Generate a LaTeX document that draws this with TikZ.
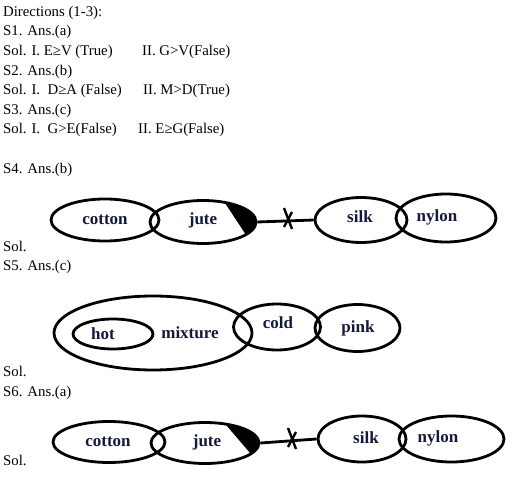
\documentclass[tikz,border=0pt]{standalone}
\usepackage{fontspec}
\setmainfont{Liberation Serif}
\usetikzlibrary{shapes.geometric,calc}
\definecolor{lbl}{RGB}{20,25,60}
\begin{document}
\begin{tikzpicture}[x=1pt,y=-1pt,
  txt/.style={anchor=base west, inner sep=0pt, font=\fontsize{14.8}{18}\selectfont},
  ell/.style={ellipse, draw, line width=2.8pt, inner sep=0pt},
  lab/.style={font=\bfseries\fontsize{17}{20}\selectfont, text=lbl, inner sep=0pt},
  link/.style={line width=2.8pt},
  crossmark/.style={line width=2.4pt}]
\useasboundingbox (0,0) rectangle (530,478);
% text lines
\node[txt] (t1) at (3,17) {Directions (1-3):};
\node[txt] (t2) at (3,36) {S1. Ans.(a)};
\node[txt] (t3) at (3,56) {Sol. I. E≥V (True)};
\node[txt] (t3b) at (142,56) {II. G>V(False)};
\node[txt] (t4) at (3,76) {S2. Ans.(b)};
\node[txt] (t5) at (3,95) {Sol. I.\ \ D≥A (False)};
\node[txt] (t5b) at (143,95) {II. M>D(True)};
\node[txt] (t6) at (3,115) {S3. Ans.(c)};
\node[txt] (t7) at (3,134) {Sol. I.\ \ G>E(False)};
\node[txt] (t7b) at (138,134) {II. E≥G(False)};
\node[txt] (t8) at (3,174) {S4. Ans.(b)};
\node[txt] (t9) at (3,252) {Sol.};
\node[txt] (t10) at (3,271) {S5. Ans.(c)};
\node[txt] (t11) at (3,376) {Sol.};
\node[txt] (t12) at (3,396) {S6. Ans.(a)};
\node[txt] (t13) at (3,465) {Sol.};
% S4 diagram
\node[ell, minimum width=108pt, minimum height=42pt] (s4cotton) at (105,220) {};
\node[ell, minimum width=106pt, minimum height=43pt] (s4jute) at (203,222) {};
\node[ell, minimum width=92pt, minimum height=45pt] (s4silk) at (361,220) {};
\node[ell, minimum width=100pt, minimum height=48pt] (s4nylon) at (446,218) {};
\fill ($(s4jute.center)+(-66:53 and 21.5)$) arc[start angle=-66, end angle=36, x radius=53, y radius=21.5] -- cycle;
\draw[link] (s4jute.east) -- (s4silk.west);
\coordinate (s4x) at (288,219);
\draw[crossmark] ($(s4x)+(-4,-11)$) -- ($(s4x)+(4,10)$);
\draw[crossmark] ($(s4x)+(4,-7)$) -- ($(s4x)+(-4,8)$);
\node[lab] (s4cottonl) at (105,220) {cotton};
\node[lab] (s4jutel) at (203,220) {jute};
\node[lab] (s4silkl) at (360,217) {silk};
\node[lab] (s4nylonl) at (437,217) {nylon};
% S5 diagram
\node[ell, minimum width=198pt, minimum height=74pt] (s5mix) at (153,333) {};
\node[ell, minimum width=80pt, minimum height=30pt] (s5hot) at (113,334) {};
\node[ell, minimum width=87pt, minimum height=46pt] (s5cold) at (277,327) {};
\node[ell, minimum width=85pt, minimum height=47pt] (s5pink) at (357.5,328) {};
\node[lab] (s5hotl) at (103,334) {hot};
\node[lab] (s5mixl) at (190,333) {mixture};
\node[lab] (s5coldl) at (278,323) {cold};
\node[lab] (s5pinkl) at (358,328) {pink};
% S6 diagram
\node[ell, minimum width=112pt, minimum height=41pt] (s6cotton) at (109,442) {};
\node[ell, minimum width=108pt, minimum height=41pt] (s6jute) at (205,443) {};
\node[ell, minimum width=88pt, minimum height=46pt] (s6silk) at (362,439) {};
\node[ell, minimum width=105pt, minimum height=46pt] (s6nylon) at (451.5,439) {};
\fill ($(s6jute.center)+(-68:54 and 20.5)$) arc[start angle=-68, end angle=32, x radius=54, y radius=20.5] -- cycle;
\draw[link] (s6jute.east) -- (s6silk.west);
\coordinate (s6x) at (292,439);
\draw[crossmark] ($(s6x)+(-4,-11)$) -- ($(s6x)+(4,10)$);
\draw[crossmark] ($(s6x)+(4,-7)$) -- ($(s6x)+(-4,8)$);
\node[lab] (s6cottonl) at (108,442) {cotton};
\node[lab] (s6jutel) at (207,442) {jute};
\node[lab] (s6silkl) at (366,438) {silk};
\node[lab] (s6nylonl) at (438,438) {nylon};
\end{tikzpicture}
\end{document}
